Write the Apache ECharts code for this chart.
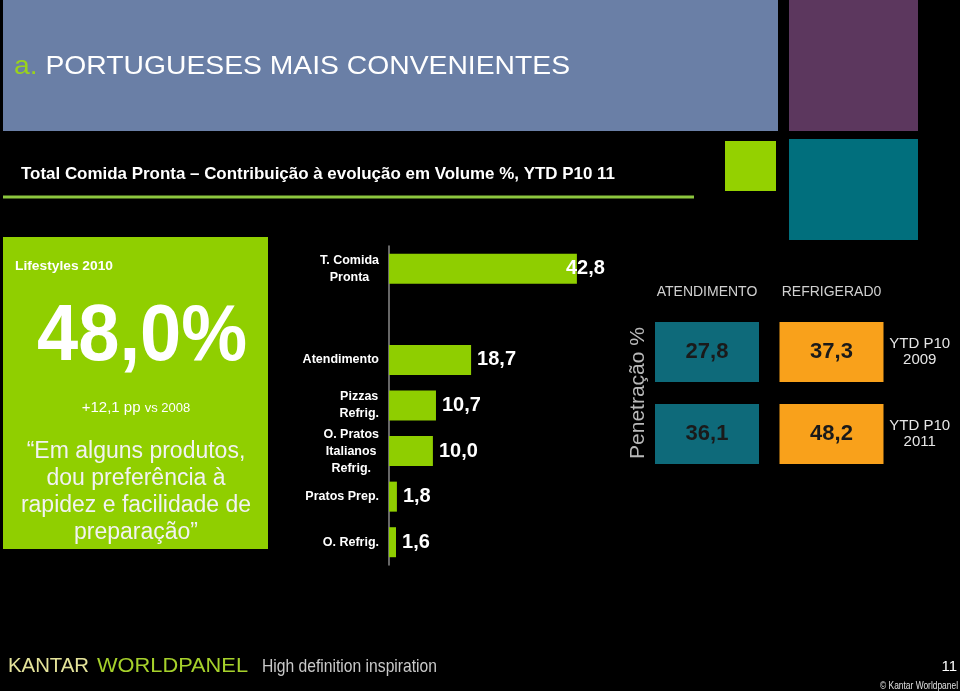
<!DOCTYPE html>
<html><head><meta charset="utf-8">
<script src="https://cdn.jsdelivr.net/npm/echarts@6/dist/echarts.min.js"></script>
<style>html,body{margin:0;padding:0;background:#000}#c{width:960px;height:691px}</style>
</head><body><div id="c"></div>
<script>
// ---- data ----
const barCategories = ['T. Comida\nPronta', '', 'Atendimento', 'Pizzas\nRefrig.', 'O. Pratos\nItalianos\nRefrig.', 'Pratos Prep.', 'O. Refrig.'];
const barValues = [42.8, null, 18.7, 10.7, 10.0, 1.8, 1.6];
const penColumns = ['ATENDIMENTO', 'REFRIGERAD0'];
const penRows = ['YTD P10\n2009', 'YTD P10\n2011'];
const penAtendimento = [27.8, 36.1];
const penRefrigerado = [37.3, 48.2];
const lifestyleLabel = 'Lifestyles 2010';
const lifestyleValue = '48,0%';
const lifestyleChange = '+12,1 pp';
const lifestyleVs = 'vs 2008';
const quoteLines = ['\u201CEm alguns produtos,', 'dou prefer\u00EAncia \u00E0', 'rapidez e facilidade de', 'prepara\u00E7\u00E3o\u201D'];

const FF = '"Liberation Sans", Arial, sans-serif';
const fmt = v => v.toFixed(1).replace('.', ',');
const mctx = document.createElement('canvas').getContext('2d');
function fit(text, font, w) { mctx.font = font; return w / mctx.measureText(text).width; }

function txt(o) {
  const font = (o.weight || 'normal') + ' ' + o.size + 'px ' + FF;
  const s = o.w ? fit(o.fitText || o.text, font, o.w) : 1;
  return {
    type: 'text', x: o.x, y: o.y, scaleX: s, rotation: o.rot || 0, silent: true,
    style: {
      text: o.text, fill: o.color || '#fff', fontSize: o.size, fontWeight: o.weight || 'normal',
      fontFamily: FF, textAlign: o.align || 'left', textVerticalAlign: 'middle', rich: o.rich
    }
  };
}
function rect(x, y, w, h, c) { return { type: 'rect', silent: true, shape: { x, y, width: w, height: h }, style: { fill: c } }; }

const chart = echarts.init(document.getElementById('c'), null, { renderer: 'canvas' });

const graphics = [
  rect(3, 0, 775, 131, '#6a7fa6'),
  rect(789, 0, 129, 131, '#5c375e'),
  rect(725, 141, 51, 50, '#94d100'),
  rect(789, 139, 129, 101, '#016f7d'),
  rect(3, 195.5, 691, 3, '#8cc63e'),
  rect(3, 237, 265, 312, '#90cf00'),
  txt({ text: '{g|a.}{w| PORTUGUESES MAIS CONVENIENTES}', fitText: 'a. PORTUGUESES MAIS CONVENIENTES', x: 14, y: 67, size: 26, w: 556,
        rich: { g: { fill: '#9ad21c', fontSize: 26, fontFamily: FF }, w: { fill: '#ffffff', fontSize: 26, fontFamily: FF } } }),
  txt({ text: 'Total Comida Pronta \u2013 Contribui\u00E7\u00E3o \u00E0 evolu\u00E7\u00E3o em Volume %, YTD P10 11', x: 21, y: 174, size: 16.5, weight: 'bold', w: 594 }),
  txt({ text: lifestyleLabel, x: 15, y: 266, size: 13.5, weight: 'bold', w: 98 }),
  txt({ text: lifestyleValue, x: 142, y: 338, size: 80, weight: 'bold', align: 'center', w: 210 }),
  txt({ text: '{a|' + lifestyleChange + ' }{b|' + lifestyleVs + '}', x: 136, y: 408, size: 15, align: 'center',
        rich: { a: { fill: '#fff', fontSize: 15, fontFamily: FF }, b: { fill: '#fff', fontSize: 13, fontFamily: FF } } }),
  ...quoteLines.map((t, i) => txt({ text: t, x: 136, y: 452 + i * 27, size: 23, align: 'center', color: '#f2f2f2' })),
  txt({ text: 'Penetra\u00E7\u00E3o %', x: 638, y: 393, size: 21, align: 'center', color: '#b8b8b8', rot: Math.PI / 2 }),
  txt({ text: 'KANTAR', x: 8, y: 666, size: 20, color: '#e4e39a', w: 81 }),
  txt({ text: 'WORLDPANEL', x: 97, y: 666, size: 20, color: '#a6d12b', w: 151 }),
  txt({ text: 'High definition inspiration', x: 262, y: 667, size: 19, color: '#c9c9c9', w: 175 }),
  txt({ text: '11', x: 957, y: 667, size: 15, align: 'right', color: '#ffffff' }),
  txt({ text: '\u00A9 Kantar Worldpanel', x: 958, y: 686, size: 10.5, align: 'right', color: '#e0e0e0', w: 78 })
];

const option = {
  backgroundColor: '#000',
  animation: false,
  textStyle: { fontFamily: FF },
  grid: [
    { left: 389, top: 246, width: 219.5, height: 319, outerBoundsMode: 'none' },
    { left: 644.75, top: 311, width: 249, height: 164, outerBoundsMode: 'none' }
  ],
  xAxis: [
    { gridIndex: 0, type: 'value', min: 0, max: 50, show: false },
    { gridIndex: 1, type: 'category', data: penColumns, position: 'top',
      axisLine: { show: false }, axisTick: { show: false }, splitLine: { show: false },
      axisLabel: { color: '#d0d0d0', fontSize: 14, margin: 12, interval: 0, hideOverlap: false, fontFamily: FF } }
  ],
  yAxis: [
    { gridIndex: 0, type: 'category', data: barCategories, inverse: true,
      axisLine: { lineStyle: { color: '#8a8a8a', width: 1.5 } },
      axisTick: { length: 4, lineStyle: { color: '#8a8a8a', width: 1.5 } },
      axisLabel: { margin: 10, interval: 0,
        formatter: v => v ? v.split('\n').map(s => '{c|' + s + '}').join('\n') : '',
        rich: { c: { align: 'center', color: '#fff', fontSize: 12.5, fontWeight: 'bold', lineHeight: 17, fontFamily: FF } } } },
    { gridIndex: 1, type: 'category', data: penRows, inverse: true, position: 'right',
      axisLine: { show: false }, axisTick: { show: false }, splitLine: { show: false },
      axisLabel: { color: '#e6e6e6', fontSize: 15, lineHeight: 16, align: 'center', margin: 26, interval: 0, fontFamily: FF } }
  ],
  series: [
    { type: 'bar', xAxisIndex: 0, yAxisIndex: 0, barWidth: 30,
      itemStyle: { color: '#8fce00' },
      label: { show: true, position: 'right', distance: 6, color: '#fff', fontSize: 20, fontWeight: 'bold', fontFamily: FF,
               formatter: p => fmt(p.value) },
      emphasis: { disabled: true },
      data: barValues.map((v, i) => v == null ? '-' : (i === 0 ? { value: v, label: { offset: [-17, 0] } } : v)) },
    { type: 'scatter', xAxisIndex: 1, yAxisIndex: 1, symbol: 'rect', symbolSize: [104, 60],
      itemStyle: { color: '#0e6a7a', opacity: 1 },
      label: { show: true, position: 'inside', color: '#1a1a1a', fontSize: 22, fontWeight: 'bold', fontFamily: FF,
               formatter: p => fmt(p.value[2]) },
      emphasis: { disabled: true },
      data: penAtendimento.map((v, i) => [0, i, v]) },
    { type: 'scatter', xAxisIndex: 1, yAxisIndex: 1, symbol: 'rect', symbolSize: [104, 60],
      itemStyle: { color: '#f9a11b', opacity: 1 },
      label: { show: true, position: 'inside', color: '#1a1a1a', fontSize: 22, fontWeight: 'bold', fontFamily: FF,
               formatter: p => fmt(p.value[2]) },
      emphasis: { disabled: true },
      data: penRefrigerado.map((v, i) => [1, i, v]) }
  ],
  graphic: graphics
};
chart.setOption(option);
</script>
</body></html>
